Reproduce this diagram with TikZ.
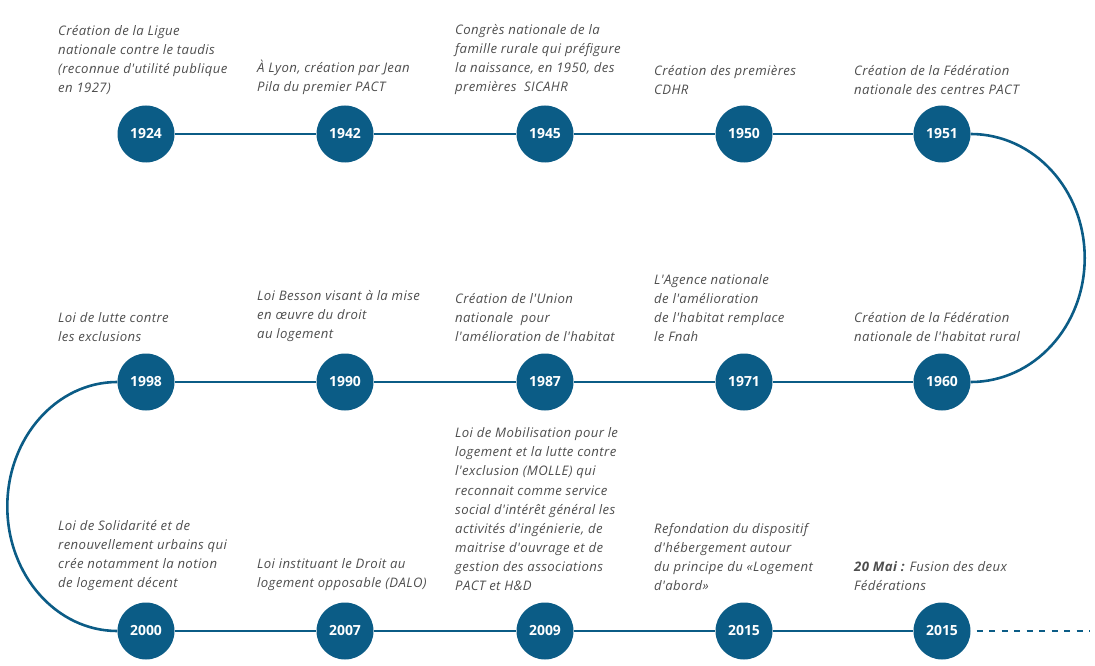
\documentclass[tikz,border=0pt]{standalone}
\usepackage{fontspec}
\setmainfont{Open Sans}
\newfontfamily\descfont[LetterSpace=3]{Open Sans}
\definecolor{tl}{HTML}{0B5C86}
\definecolor{tx}{HTML}{4E4E4E}
\begin{document}
\begin{tikzpicture}[x=1bp,y=-1bp,
  yr/.style={circle,fill=tl,draw=none,minimum size=57bp,inner sep=0pt,text=white,font=\fontsize{14}{16}\selectfont\bfseries},
  desc/.style={anchor=south west,inner sep=0pt,align=left,text=tx,font=\descfont\fontsize{13.2}{19.2}\selectfont\itshape},
  ln/.style={draw=tl,line width=2.6bp}]
\useasboundingbox (0,0) rectangle (1095,666);
% row 1
\node[yr] (a1) at (146,134) {1924};
\node[yr] (a2) at (345,134) {1942};
\node[yr] (a3) at (545,134) {1945};
\node[yr] (a4) at (744,134) {1950};
\node[yr] (a5) at (942,134) {1951};
% row 2
\node[yr] (b5) at (942,382) {1960};
\node[yr] (b4) at (744,382) {1971};
\node[yr] (b3) at (545,382) {1987};
\node[yr] (b2) at (345,382) {1990};
\node[yr] (b1) at (146,382) {1998};
% row 3
\node[yr] (c1) at (146,631) {2000};
\node[yr] (c2) at (345,631) {2007};
\node[yr] (c3) at (545,631) {2009};
\node[yr] (c4) at (744,631) {2015};
\node[yr] (c5) at (942,631) {2015};
\coordinate (end) at (1090,631);
% connectors
\draw[ln] (a1) -- (a2); \draw[ln] (a2) -- (a3); \draw[ln] (a3) -- (a4); \draw[ln] (a4) -- (a5);
\draw[ln] (b5) -- (b4); \draw[ln] (b4) -- (b3); \draw[ln] (b3) -- (b2); \draw[ln] (b2) -- (b1);
\draw[ln] (c1) -- (c2); \draw[ln] (c2) -- (c3); \draw[ln] (c3) -- (c4); \draw[ln] (c4) -- (c5);
\draw[ln] (a5.east) arc[start angle=-90,end angle=90,x radius=114,y radius=124];
\draw[ln] (b1.west) arc[start angle=-90,end angle=-270,x radius=110,y radius=124.5];
\draw[ln,dash pattern=on 6bp off 6.5bp] ([xshift=6bp]c5.east) -- (end);
% texts
\node[desc] (t1) at (58,95) {Création de la Ligue\\nationale contre le taudis\\(reconnue d'utilité publique\\en 1927)};
\node[desc] (t2) at (257,95) {À Lyon, création par Jean\\Pila du premier PACT};
\node[desc] (t3) at (455,95) {Congrès nationale de la\\famille rurale qui préfigure\\la naissance, en 1950, des\\premières\ \ SICAHR};
\node[desc] (t4) at (654,95) {Création des premières\\CDHR};
\node[desc] (t5) at (854,95) {Création de la Fédération\\nationale des centres PACT};
\node[desc] (u1) at (58,342) {Loi de lutte contre\\les exclusions};
\node[desc] (u2) at (257,342) {Loi Besson visant à la mise\\en œuvre du droit\\au logement};
\node[desc] (u3) at (455,342) {Création de l'Union\\nationale\ \ pour\\l'amélioration de l'habitat};
\node[desc] (u4) at (654,342) {L'Agence nationale\\de l'amélioration\\de l'habitat remplace\\le Fnah};
\node[desc] (u5) at (854,342) {Création de la Fédération\\nationale de l'habitat rural};
\node[desc] (v1) at (58,591) {Loi de Solidarité et de\\renouvellement urbains qui\\crée notamment la notion\\de logement décent};
\node[desc] (v2) at (257,591) {Loi instituant le Droit au\\logement opposable (DALO)};
\node[desc] (v3) at (455,591) {Loi de Mobilisation pour le\\logement et la lutte contre\\l'exclusion (MOLLE) qui\\reconnait comme service\\social d'intérêt général les\\activités d'ingénierie, de\\maitrise d'ouvrage et de\\gestion des associations\\PACT et H\&D};
\node[desc] (v4) at (654,591) {Refondation du dispositif\\d'hébergement autour\\du principe du «Logement\\d'abord»};
\node[desc] (v5) at (854,591) {{\bfseries 20 Mai :} Fusion des deux\\Fédérations};
\end{tikzpicture}
\end{document}
